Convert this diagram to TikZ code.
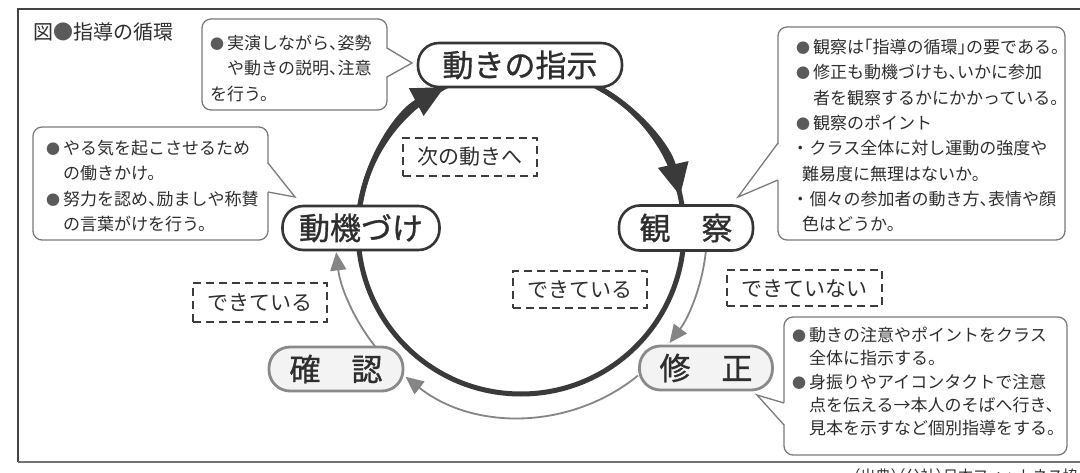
\documentclass[tikz,border=0pt]{standalone}
\usepackage{fontspec}
\setmainfont{Noto Sans CJK JP}[RawFeature=+halt]
\newfontfamily\nodefont{Noto Sans CJK JP}[FakeBold=1]
\usetikzlibrary{arrows.meta}
\definecolor{txt}{HTML}{2E2E2E}
\definecolor{bubgray}{HTML}{7A7A7A}
\definecolor{bulc}{HTML}{5A5A5A}
\definecolor{nodedark}{HTML}{363636}
\definecolor{nodelight}{HTML}{8A8A8A}
\definecolor{nodefill}{HTML}{F3F3F3}
\definecolor{dashc}{HTML}{3C3C3C}
\definecolor{circc}{HTML}{3A3A3A}
\definecolor{arcgray}{HTML}{858585}
\definecolor{framec}{HTML}{444444}
\newcommand{\bul}{\makebox[17pt][l]{\color{bulc}\fontsize{14}{14}\selectfont ●}}
\newcommand{\ind}{\hspace{17pt}}
\begin{document}
\begin{tikzpicture}[x=1pt,y=1pt,
  bub/.style={draw=bubgray, line width=1.3pt, fill=white},
  btext/.style={anchor=north west, inner sep=0pt, align=left, text=txt, font=\fontsize{17}{25.3}\selectfont},
  darknode/.style={draw=nodedark, line width=2.6pt, rounded corners=21pt, fill=white, text=txt, font=\nodefont\fontsize{31}{31}\selectfont, inner sep=0pt},
  lightnode/.style={draw=nodelight, line width=2.8pt, rounded corners=21pt, fill=nodefill, text=txt, font=\nodefont\fontsize{31}{31}\selectfont, inner sep=0pt},
  dbox/.style={draw=dashc, line width=2pt, dash pattern=on 8pt off 5pt, fill=white, text=txt, font=\fontsize{21}{21}\selectfont, inner sep=0pt},
  thickc/.style={draw=circc, line width=5pt},
  thinc/.style={draw=arcgray, line width=1.8pt},
  bigtip/.style={-{Triangle[length=32pt,width=30pt]}},
  smalltip/.style={-{Triangle[length=18pt,width=16pt]}},
]
\useasboundingbox (0,0) rectangle (1080,472);
\clip (0,0) rectangle (1080,472);
\fill[white] (0,0) rectangle (1080,472);

% frame
\draw[framec, line width=1.4pt] (1080,463) -- (18,463) -- (18,10);
\draw[black!55, line width=2.2pt] (18,10) -- (1080,10);

% circle and arcs (drawn first, nodes cover them)
\coordinate (O) at (521,241);
\draw[thickc] (O) circle[radius=163];
\draw[thickc, bigtip] ([shift={(171:163)}]O) arc[start angle=171, end angle=118, radius=163];
\draw[thickc, bigtip] ([shift={(62:163)}]O) arc[start angle=62, end angle=12.5, radius=163];
\draw[thinc, smalltip] ([shift={(-6:186)}]O) arc[start angle=-6, end angle=-37, radius=186];
\draw[thinc, smalltip] ([shift={(-51:186)}]O) arc[start angle=-51, end angle=-128.4, radius=186];
\draw[thinc, smalltip] ([shift={(219:186)}]O) arc[start angle=219, end angle=186.6, radius=186];

% title
\node[anchor=west, inner sep=0pt, text=txt, font=\fontsize{20}{20}\selectfont] (title) at (33,440) {図{\color{bulc}●}指導の循環};

% main nodes
\node[darknode, minimum width=204pt, minimum height=44pt] (shiji) at (520,407) {動きの指示};
\node[darknode, minimum width=134pt, minimum height=45pt] (kansatsu) at (686,244) {観　察};
\node[darknode, minimum width=157pt, minimum height=44pt] (douki) at (361,244) {動機づけ};
\node[lightnode, minimum width=134pt, minimum height=44pt] (kakunin) at (336,103) {確　認};
\node[lightnode, minimum width=133pt, minimum height=44pt] (shusei) at (706,104) {修　正};

% dashed boxes
\node[dbox, minimum width=134pt, minimum height=38pt] (tsugi) at (470,315) {次の動きへ};
\node[dbox, minimum width=134pt, minimum height=39pt] (dekiL) at (260,169.5) {できている};
\node[dbox, minimum width=134pt, minimum height=37pt] (dekiM) at (580,182.5) {できている};
\node[dbox, minimum width=155pt, minimum height=36pt] (dekinai) at (804.5,183.5) {できていない};

% bubble 1 (top left, pointer right)
\draw[bub, rounded corners=9pt] (202,362) rectangle (387,453);
\fill[white] (385.5,424) -- (412,409) -- (385.5,395) -- cycle;
\draw[bub, line join=miter] (387,424) -- (412,409) -- (387,395);
\node[btext] (b1) at (210,437) {\bul 実演しながら、姿勢\\ \ind や動きの説明、注意\\ を行う。};

% bubble 2 (left, pointer right)
\draw[bub, rounded corners=9pt] (33,232) rectangle (268,345);
\fill[white] (266.5,309) -- (295,275) -- (266.5,280) -- cycle;
\draw[bub, line join=miter] (268,309) -- (295,275) -- (268,280);
\node[btext] (b2) at (46,332) {\bul やる気を起こさせるため\\ \ind の働きかけ。\\ \bul 努力を認め、励ましや称賛\\ \ind の言葉がけを行う。};

% bubble 3 (top right, pointer left)
\draw[bub, rounded corners=9pt] (778,232) rectangle (1065,445);
\fill[white] (779.5,329) -- (738,275) -- (779.5,292) -- cycle;
\draw[bub, line join=miter] (778,329) -- (738,275) -- (778,292);
\node[btext] (b3) at (796,433) {\bul 観察は「指導の循環」の要である。\\ \bul 修正も動機づけも、いかに参加\\ \ind 者を観察するかにかかっている。\\ \bul 観察のポイント\\ ・\hspace{5pt}クラス全体に対し運動の強度や\\ \hspace{6pt}難易度に無理はないか。\\ ・\hspace{5pt}個々の参加者の動き方、表情や顔\\ \hspace{6pt}色はどうか。};

% bubble 4 (bottom right, pointer left)
\draw[bub, rounded corners=9pt] (784,17) rectangle (1067,155);
\fill[white] (785.5,69) -- (757,77) -- (785.5,47) -- cycle;
\draw[bub, line join=miter] (784,69) -- (757,77) -- (784,47);
\node[btext, font=\fontsize{17}{23.3}\selectfont] (b4) at (792,145) {\bul 動きの注意やポイントをクラス\\ \ind 全体に指示する。\\ \bul 身振りやアイコンタクトで注意\\ \ind 点を伝える→本人のそばへ行き、\\ \ind 見本を示すなど個別指導をする。};

% source (cut off at the bottom edge, as in the reference)
\node[anchor=north west, inner sep=0pt, text=txt, font=\fontsize{15}{15}\selectfont] (src) at (853,4) {（出典）（公社）日本フィットネス協会より};
\end{tikzpicture}
\end{document}
